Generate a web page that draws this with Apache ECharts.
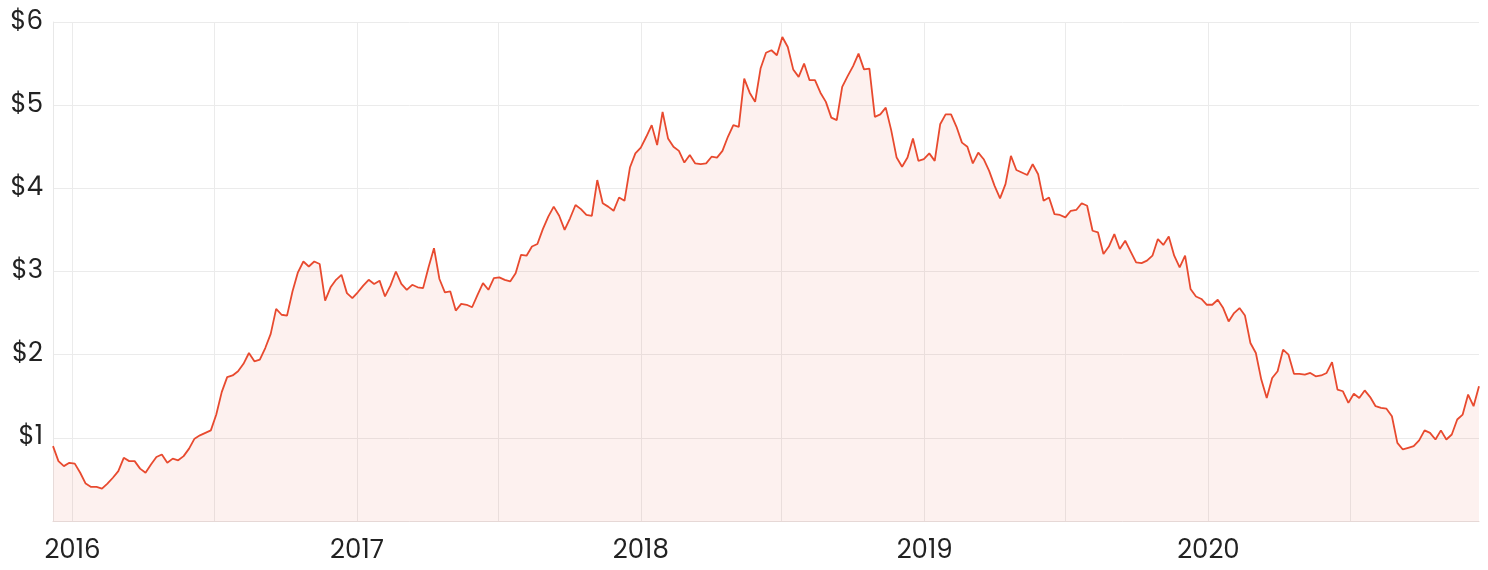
<!DOCTYPE html>
<html>
<head>
<meta charset="utf-8">
<script src="https://cdn.jsdelivr.net/npm/echarts@6/dist/echarts.min.js"></script>
<style>
html,body{margin:0;padding:0;background:#ffffff;}
#chart{width:1488px;height:570px;}
</style>
</head>
<body>
<div id="chart"></div>
<script>
// Weekly closing prices, first sample on startDate
const startDate = '2015-12-07';
const stepDays = 7;
const prices = [
  0.90, 0.72, 0.66, 0.70, 0.69, 0.58, 0.45, 0.41, 0.41, 0.39,
  0.45, 0.52, 0.60, 0.76, 0.72, 0.72, 0.63, 0.58, 0.68, 0.77,
  0.80, 0.70, 0.75, 0.73, 0.78, 0.87, 0.99, 1.03, 1.06, 1.09,
  1.28, 1.55, 1.73, 1.75, 1.80, 1.89, 2.02, 1.92, 1.94, 2.08,
  2.25, 2.55, 2.48, 2.47, 2.76, 2.99, 3.12, 3.06, 3.12, 3.09,
  2.65, 2.81, 2.90, 2.96, 2.74, 2.68, 2.75, 2.83, 2.90, 2.85,
  2.89, 2.70, 2.83, 3.00, 2.85, 2.78, 2.84, 2.81, 2.80, 3.05,
  3.28, 2.91, 2.75, 2.76, 2.53, 2.61, 2.60, 2.57, 2.72, 2.86,
  2.78, 2.92, 2.93, 2.90, 2.88, 2.98, 3.20, 3.19, 3.30, 3.33,
  3.51, 3.66, 3.78, 3.67, 3.50, 3.64, 3.80, 3.75, 3.68, 3.67,
  4.10, 3.82, 3.78, 3.73, 3.89, 3.85, 4.25, 4.42, 4.49, 4.62,
  4.76, 4.52, 4.92, 4.60, 4.50, 4.45, 4.31, 4.40, 4.30, 4.29,
  4.30, 4.38, 4.37, 4.45, 4.62, 4.76, 4.74, 5.32, 5.15, 5.04,
  5.44, 5.63, 5.66, 5.60, 5.82, 5.70, 5.43, 5.34, 5.50, 5.30,
  5.30, 5.15, 5.04, 4.85, 4.82, 5.22, 5.35, 5.47, 5.62, 5.43,
  5.44, 4.86, 4.89, 4.97, 4.70, 4.37, 4.26, 4.37, 4.60, 4.33,
  4.35, 4.42, 4.33, 4.77, 4.89, 4.89, 4.74, 4.55, 4.50, 4.30,
  4.43, 4.35, 4.21, 4.03, 3.88, 4.05, 4.39, 4.22, 4.19, 4.16,
  4.29, 4.17, 3.85, 3.89, 3.69, 3.68, 3.65, 3.73, 3.74, 3.82,
  3.79, 3.49, 3.47, 3.21, 3.30, 3.45, 3.27, 3.37, 3.24, 3.11,
  3.10, 3.13, 3.19, 3.39, 3.32, 3.42, 3.19, 3.05, 3.19, 2.79,
  2.70, 2.67, 2.60, 2.60, 2.66, 2.56, 2.40, 2.50, 2.56, 2.47,
  2.14, 2.02, 1.70, 1.48, 1.72, 1.80, 2.06, 2.00, 1.77, 1.77,
  1.76, 1.78, 1.74, 1.75, 1.78, 1.91, 1.58, 1.56, 1.42, 1.53,
  1.48, 1.57, 1.49, 1.38, 1.36, 1.35, 1.26, 0.94, 0.86, 0.88,
  0.90, 0.97, 1.09, 1.06, 0.98, 1.09, 0.98, 1.04, 1.22, 1.28,
  1.52, 1.38, 1.62
];
const yearLabels = [2016, 2017, 2018, 2019, 2020];
const gridDates = ['2016-01-01','2016-07-01','2017-01-01','2017-07-01','2018-01-01',
                   '2018-07-01','2019-01-01','2019-07-01','2020-01-01','2020-07-01'];
const yTicks = [0, 1, 2, 3, 4, 5, 6];

const DAY = 86400000;
const t0 = Date.parse(startDate + 'T00:00:00Z');
const seriesData = prices.map((v, i) => [t0 + i * stepDays * DAY, v]);
const tMin = seriesData[0][0];
const tMax = seriesData[seriesData.length - 1][0];
const labelVals = yearLabels.map(y => Date.UTC(y, 0, 1));
const gridVals = gridDates.map(d => Date.parse(d + 'T00:00:00Z'));

const FONT = "Poppins, Inter, 'Open Sans', sans-serif";
const chart = echarts.init(document.getElementById('chart'), null, {renderer: 'canvas'});
chart.setOption({
  animation: false,
  backgroundColor: '#ffffff',
  grid: {left: 53, right: 9, top: 22, bottom: 49, containLabel: false},
  xAxis: {
    type: 'value',
    min: tMin,
    max: tMax,
    axisLine: {show: true, lineStyle: {color: '#e6d8d6', width: 1}},
    axisTick: {show: false, customValues: gridVals},
    axisLabel: {
      customValues: labelVals,
      formatter: v => String(new Date(v).getUTCFullYear()),
      color: '#222222', fontSize: 26, fontFamily: FONT, margin: 17
    },
    splitLine: {show: true, lineStyle: {color: '#ebebeb', width: 1}}
  },
  yAxis: {
    type: 'value',
    min: yTicks[0],
    max: yTicks[yTicks.length - 1],
    interval: 1,
    axisLine: {show: true, lineStyle: {color: '#e8e8e8', width: 1}},
    axisTick: {show: false},
    axisLabel: {
      formatter: v => (v === 0 ? '' : '$' + v),
      color: '#222222', fontSize: 26, fontFamily: FONT, margin: 10
    },
    splitLine: {show: true, lineStyle: {color: '#ebebeb', width: 1}}
  },
  series: [{
    type: 'line',
    data: seriesData,
    showSymbol: false,
    symbol: 'none',
    lineStyle: {color: '#e84a2f', width: 1.8},
    itemStyle: {color: '#e84a2f'},
    areaStyle: {color: 'rgba(232,74,47,0.11)'}
  }]
});
</script>
</body>
</html>
